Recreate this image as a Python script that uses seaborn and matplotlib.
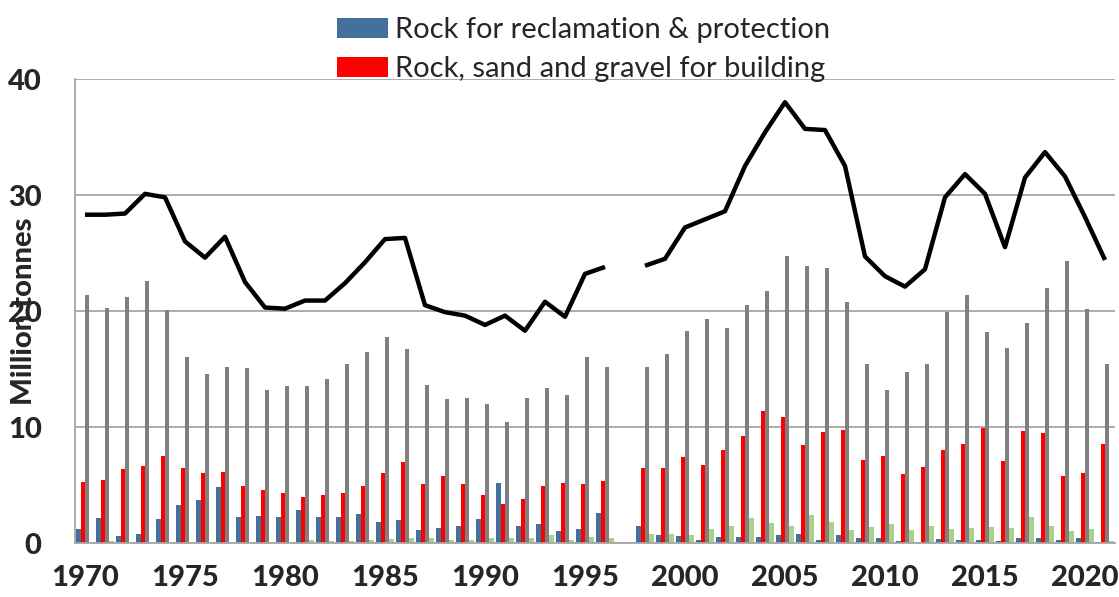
import numpy as np
import pandas as pd
import matplotlib
matplotlib.use("Agg")
import matplotlib.pyplot as plt
from matplotlib.ticker import FixedLocator
import seaborn as sns

# Données (millions de tonnes), 1997 manquant
years = list(range(1970, 2022))

reclamation = [1.2, 2.15, 0.6, 0.75, 2.1, 3.25, 3.7, 4.85, 2.25, 2.35,
               2.2, 2.85, 2.25, 2.2, 2.5, 1.85, 2.0, 1.15, 1.3, 1.5,
               2.1, 5.2, 1.45, 1.65, 1.0, 1.25, 2.6, None, 1.45, 0.7,
               0.6, 0.3, 0.5, 0.55, 0.55, 0.7, 0.8, 0.3, 0.65, 0.45,
               0.45, 0.15, 0.1, 0.35, 0.3, 0.3, 0.15, 0.45, 0.45, 0.3,
               0.45, 0.1]

building = [5.3, 5.4, 6.4, 6.6, 7.5, 6.5, 6.0, 6.1, 4.9, 4.6,
            4.3, 4.0, 4.1, 4.3, 4.95, 6.0, 7.0, 5.1, 5.75, 5.1,
            4.1, 3.4, 3.8, 4.9, 5.15, 5.05, 5.35, None, 6.45, 6.5,
            7.45, 6.75, 8.0, 9.2, 11.35, 10.9, 8.45, 9.55, 9.7, 7.15,
            7.5, 5.95, 6.55, 8.0, 8.5, 9.95, 7.1, 9.65, 9.45, 5.8,
            6.0, 8.55]

other = [21.4, 20.3, 21.2, 22.6, 20.1, 16.0, 14.6, 15.2, 15.1, 13.15,
         13.5, 13.5, 14.1, 15.4, 16.5, 17.8, 16.7, 13.6, 12.4, 12.5,
         12.0, 10.4, 12.5, 13.4, 12.8, 16.0, 15.2, None, 15.2, 16.3,
         18.3, 19.3, 18.5, 20.5, 21.7, 24.7, 23.9, 23.7, 20.8, 15.4,
         13.2, 14.7, 15.4, 19.9, 21.4, 18.2, 16.8, 19.0, 22.0, 24.3,
         20.2, 15.4]

misc = [0.1, 0.2, 0.05, 0.05, 0.05, 0.05, 0.05, 0.05, 0.05, 0.05,
        0.05, 0.3, 0.2, 0.2, 0.3, 0.35, 0.4, 0.45, 0.25, 0.25,
        0.4, 0.45, 0.4, 0.65, 0.25, 0.55, 0.45, None, 0.75, 0.8,
        0.65, 1.25, 1.5, 2.15, 1.7, 1.5, 2.4, 1.85, 1.1, 1.4,
        1.65, 1.15, 1.45, 1.25, 1.3, 1.4, 1.3, 2.2, 1.5, 1.05,
        1.25, 0.2]

total = [28.3, 28.3, 28.4, 30.1, 29.8, 26.0, 24.6, 26.4, 22.5, 20.3,
         20.2, 20.9, 20.9, 22.4, 24.2, 26.2, 26.3, 20.5, 19.9, 19.6,
         18.8, 19.6, 18.3, 20.8, 19.5, 23.2, 23.8, None, 23.9, 24.5,
         27.2, 27.9, 28.6, 32.5, 35.4, 38.0, 35.7, 35.6, 32.5, 24.7,
         23.0, 22.1, 23.6, 29.8, 31.8, 30.1, 25.5, 31.5, 33.7, 31.6,
         28.1, 24.4]

series = {
    "Rock for reclamation & protection": reclamation,
    "Rock, sand and gravel for building": building,
    "Other aggregates": other,
    "Miscellaneous": misc,
}
colors = ["#44709E", "#FF0000", "#808080", "#A9D18E"]

rows = []
for name, vals in series.items():
    for yr, v in zip(years, vals):
        rows.append({"annee": str(yr), "serie": name, "valeur": np.nan if v is None else v})
df = pd.DataFrame(rows)

sns.set_style("white")
plt.rcParams["font.family"] = ["Lato", "DejaVu Sans"]

fig = plt.figure(figsize=(11.19, 5.97), dpi=100)
ax = fig.add_axes([75 / 1119, 1 - 543 / 597, 1040 / 1119, 464 / 597])

sns.barplot(data=df, x="annee", y="valeur", hue="serie",
            order=[str(y) for y in years], hue_order=list(series.keys()),
            palette=colors, width=0.88, gap=0, saturation=1,
            linewidth=0, errorbar=None, ax=ax)

# ligne du total
tot = np.array([np.nan if v is None else v for v in total], dtype=float)
ax.plot(np.arange(len(years)), tot, color="black", lw=3.2, solid_capstyle="butt", zorder=5)

ax.set_xlim(-0.5, len(years) - 0.5)
ax.set_ylim(0, 40)
ax.set_yticks([0, 10, 20, 30, 40])
ax.yaxis.grid(True, color="#A6A6A6", lw=1.3)
ax.set_axisbelow(True)

# étiquettes tous les 5 ans, graduations aux limites des catégories
lab_pos = list(range(0, len(years), 5))
ax.set_xticks(lab_pos)
ax.set_xticklabels([str(years[i]) for i in lab_pos])
ax.xaxis.set_minor_locator(FixedLocator([p - 0.5 for p in lab_pos]))
ax.tick_params(axis="x", which="major", length=0, pad=16, labelsize=21)
ax.tick_params(axis="x", which="minor", length=9, width=1.3, color="#A6A6A6", direction="out")
ax.tick_params(axis="y", length=10, width=1.3, color="#A6A6A6", direction="out", pad=14, labelsize=21)
for lab in ax.get_xticklabels() + ax.get_yticklabels():
    lab.set_fontweight(900)

for side in ["top", "right"]:
    ax.spines[side].set_visible(False)
for side in ["left", "bottom"]:
    ax.spines[side].set_color("#A6A6A6")
    ax.spines[side].set_linewidth(1.3)

ax.set_xlabel("")
ax.set_ylabel("Million tonnes", fontsize=21, fontweight=900)
ax.yaxis.set_label_coords(-38 / 1040, 0.5)

handles, labels = ax.get_legend_handles_labels()
ax.legend(handles[:2], labels[:2], loc="upper left",
          bbox_to_anchor=(337 / 1119, 1 - 17 / 597), bbox_transform=fig.transFigure,
          frameon=False, fontsize=21, handlelength=1.75, handleheight=0.7,
          handletextpad=0.25, labelspacing=0.45, borderpad=0, borderaxespad=0)

fig.savefig("out.png", dpi=100)
